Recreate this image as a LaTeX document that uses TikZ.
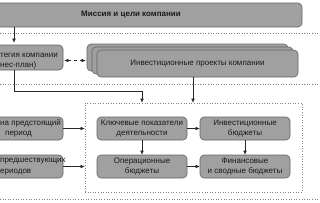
\documentclass[tikz,border=0pt]{standalone}
\usepackage{fontspec}
\setmainfont{Liberation Sans}
\usetikzlibrary{arrows.meta}
\definecolor{boxfill}{RGB}{160,160,160}
\definecolor{boxline}{RGB}{100,100,100}
\definecolor{txt}{RGB}{25,25,25}
\definecolor{dotcol}{RGB}{130,130,130}
\definecolor{arrcol}{RGB}{40,40,40}
\begin{document}
\begin{tikzpicture}[x=1pt,y=-1pt,
  box/.style={draw=boxline, fill=boxfill, rounded corners=4pt, line width=0.6pt,
    font=\fontsize{8}{10.5}\selectfont, text=txt, align=center, inner sep=1pt},
  lbl/.style={font=\fontsize{8}{10.5}\selectfont, text=txt, align=left, inner sep=0pt, anchor=west},
  arr/.style={-{Latex[length=4pt,width=3.5pt]}, line width=0.5pt, draw=arrcol},
  sep/.style={draw=dotcol, dotted, line width=0.6pt}]
\useasboundingbox (0,0) rectangle (320,202);
\clip (0,0) rectangle (320,202);
% separators
\draw[sep] (0,33) -- (320,33);
\draw[sep] (0,84) -- (320,84);
\draw[sep] (0,199) -- (320,199);
% mission
\node[box, minimum width=342pt, minimum height=24pt] (mission) at (131,15) {\textbf{Миссия и цели компании}};
% strategy
\node[box, minimum width=98pt, minimum height=25pt] (strat) at (14,57.5) {};
\node[lbl] (strattxt) at (0,61) {тегия компании\\нес-план)};
% investment projects stack
\node[box, minimum width=201pt, minimum height=27pt] (back) at (187.5,57.5) {};
\node[box, minimum width=201pt, minimum height=27pt] (mid) at (192.5,60.5) {};
\node[box, minimum width=201pt, minimum height=27pt] (front) at (197.5,63.5) {Инвестиционные проекты компании};
% group
\node[draw=dotcol, dotted, line width=0.6pt, minimum width=217pt, minimum height=89pt, inner sep=0pt] (grp) at (193.5,147.5) {};
% inner boxes
\node[box, minimum width=90pt, minimum height=23pt] (kpi) at (142,128.5) {Ключевые показатели\\деятельности};
\node[box, minimum width=90pt, minimum height=23pt] (inv) at (245,128.5) {Инвестиционные\\бюджеты};
\node[box, minimum width=90pt, minimum height=23pt] (ops) at (142,166.5) {Операционные\\бюджеты};
\node[box, minimum width=90pt, minimum height=23pt] (fin) at (245,166.5) {Финансовые\\и сводные бюджеты};
% left boxes
\node[box, minimum width=98pt, minimum height=23pt] (plan) at (14,128.5) {};
\node[lbl] (plantxt) at (0,128.5) {на предстоящий\\\hspace*{5pt}период};
\node[box, minimum width=98pt, minimum height=23pt] (prev) at (14,166.5) {};
\node[lbl] (prevtxt) at (0,166.5) {предшествующих\\ериодов};
% connectors
\draw[arr, shorten >=2pt] (strat |- mission.south) -- (strat.north);
\draw[arr, dashed, {Latex[length=4pt,width=3.5pt]}-{Latex[length=4pt,width=3.5pt]}, shorten <=1pt, shorten >=1pt] ([yshift=-3pt]strat.east) -- ([yshift=-3pt]strat.east -| back.west);
\coordinate (bend) at (142,91);
\draw[arr] (strat.south) |- (bend) -- (bend |- grp.north);
\draw[arr] ([xshift=-4.5pt]front.south) -- ([xshift=-4.5pt]front.south |- grp.north);
\draw[arr] (kpi.east) -- (inv.west);
\draw[arr] (kpi.south) -- (ops.north);
\draw[arr] (inv.south) -- (fin.north);
\draw[arr] (ops.east) -- (fin.west);
\draw[arr] (plan.east) -- (plan.east -| grp.west);
\draw[arr] (prev.east) -- (prev.east -| grp.west);
\end{tikzpicture}
\end{document}
